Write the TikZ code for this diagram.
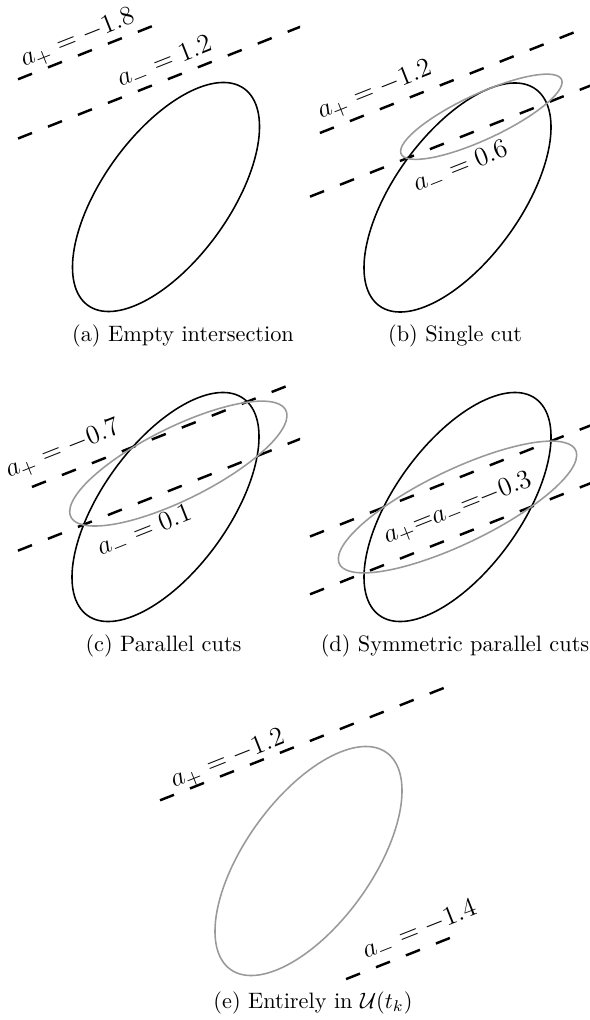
\documentclass[tikz,border=0pt]{standalone}
\usepackage{amsmath,amssymb}
\usepackage{tikz}

\begin{document}
\begin{tikzpicture}[x=0.4484pt, y=0.4484pt,
  outer/.style={draw=black, line width=0.7pt},
  inner/.style={draw=black!40, line width=0.7pt},
  cutline/.style={line width=1.1pt, dash pattern=on 6.75pt off 7.7pt},
  lbl/.style={font=\fontsize{12.5}{15}\selectfont, rotate=21.6, inner sep=0pt},
  subcap/.style={font=\normalsize, inner sep=0pt}]
\useasboundingbox (0,0) rectangle (590,-1020);
% panel (a): empty intersection
\begin{scope}
  \clip (17,-24) rectangle (300,-330);
  \begin{scope}[cm={87.77,34.75,32.22,109.10,(166,-197)}]
    \draw[cutline] (-2.358,1.83) -- ++(3.6,0);
    \draw[cutline] (-2.132,1.215) -- ++(3.6,0);
  \end{scope}
\end{scope}
\begin{scope}[cm={87.77,34.75,32.22,109.10,(166,-197)}]
  \draw[outer] (0,0) circle[radius=1];
\end{scope}
\node[lbl] (ap-a) at (78,-39) {$a_+ = -1.8$};
\node[lbl] (am-a) at (165,-63) {$a_- = 1.2$};
\node[subcap] (cap-a) at (183,-336) {(a) Empty intersection};
% panel (b): single cut
\begin{scope}
  \clip (309,-24) rectangle (590,-330);
  \begin{scope}[cm={87.77,34.75,32.22,109.10,(457.5,-197.5)}]
    \draw[cutline] (-2.704,1.235) -- ++(3.6,0);
    \draw[cutline] (-1.906,0.615) -- ++(3.6,0);
  \end{scope}
\end{scope}
\begin{scope}[cm={87.77,34.75,32.22,109.10,(457.5,-197.5)}]
  \draw[outer] (0,0) circle[radius=1];
  \draw[inner] (0,0.74) ellipse[x radius=0.915, y radius=0.26];
\end{scope}
\node[lbl] (ap-b) at (375,-91) {$a_+ = -1.2$};
\node[lbl] (am-b) at (461,-168) {$a_- = 0.6$};
\node[subcap] (cap-b) at (455,-336) {(b) Single cut};
% panel (c): parallel cuts
\begin{scope}
  \clip (17,-340) rectangle (300,-640);
  \begin{scope}[cm={87.77,34.75,32.22,109.10,(165.5,-507)}]
    \draw[cutline] (-2.141,0.757) -- ++(3.6,0);
    \draw[cutline] (-1.737,0.153) -- ++(3.6,0);
  \end{scope}
\end{scope}
\begin{scope}[cm={87.77,34.75,32.22,109.10,(165.5,-507)}]
  \draw[outer] (0,0) circle[radius=1];
  \draw[inner] (0,0.398) ellipse[x radius=1.2283, y radius=0.4178];
\end{scope}
\node[lbl] (ap-c) at (63,-450) {$a_+ = -0.7$};
\node[lbl] (am-c) at (145,-532) {$a_- = 0.1$};
\node[subcap] (cap-c) at (163.5,-646) {(c) Parallel cuts};
% panel (d): symmetric parallel cuts
\begin{scope}
  \clip (309,-340) rectangle (590,-640);
  \begin{scope}[cm={87.77,34.75,32.22,109.10,(457.5,-507)}]
    \draw[cutline] (-1.791,0.3) -- ++(3.6,0);
    \draw[cutline] (-1.570,-0.3) -- ++(3.6,0);
  \end{scope}
\end{scope}
\begin{scope}[cm={87.77,34.75,32.22,109.10,(457.5,-507)}]
  \draw[outer] (0,0) circle[radius=1];
  \draw[inner] (0,0) ellipse[x radius=1.3491, y radius=0.4243];
\end{scope}
\node[lbl] (apm-d) at (458,-509) {$a_+{=}a_-{=}{-}0.3$};
\node[subcap] (cap-d) at (455,-646) {(d) Symmetric parallel cuts};
% panel (e): entirely inside
\begin{scope}
  \clip (150,-660) rectangle (450,-1000);
  \begin{scope}[cm={87.77,34.75,32.22,109.10,(308.5,-861)}]
    \draw[cutline] (-2.147,1.24) -- ++(3.6,0);
    \draw[cutline] (0.934,-1.38) -- ++(3.6,0);
  \end{scope}
\end{scope}
\begin{scope}[cm={87.77,34.75,32.22,109.10,(308.5,-861)}]
  \draw[inner] (0,0) circle[radius=1];
\end{scope}
\node[lbl] (ap-e) at (228,-760) {$a_+ = -1.2$};
\node[lbl] (am-e) at (420,-931) {$a_- = -1.4$};
\node[subcap] (cap-e) at (313,-1003) {(e) Entirely in $\mathcal{U}(t_k)$};
\end{tikzpicture}
\end{document}
